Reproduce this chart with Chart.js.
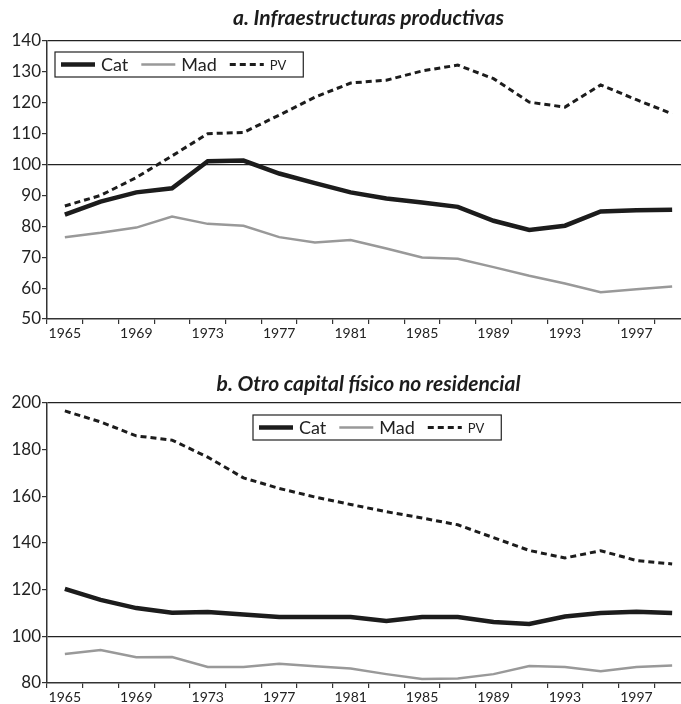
<!DOCTYPE html>
<html>
<head>
<meta charset="utf-8">
<script src="https://cdn.jsdelivr.net/npm/chart.js@4.4.1/dist/chart.umd.min.js"></script>
<style>
  html, body { margin: 0; padding: 0; background: #fff; overflow: hidden; }
  #wrap { position: relative; width: 681px; height: 704px; overflow: hidden; }
  .box { position: absolute; left: 0; width: 690px; }
  #boxA { top: 0; height: 345px; }
  #boxB { top: 355px; height: 349px; }
</style>
</head>
<body>
<div id="wrap">
  <div class="box" id="boxA"><canvas id="chartA"></canvas></div>
  <div class="box" id="boxB"><canvas id="chartB"></canvas></div>
</div>
<script>
/* ===== DATA ===== */
const years = ['1965', '1967', '1969', '1971', '1973', '1975', '1977', '1979', '1981',
               '1983', '1985', '1987', '1989', '1991', '1993', '1995', '1997', '1999'];
const seriesNames = ['Cat', 'Mad', 'PV'];

// a. Infraestructuras productivas
const catA = [83.8, 88.0, 91.0, 92.3, 101.1, 101.3, 97.1, 94.0, 91.0, 89.0, 87.7, 86.3, 81.8, 78.8, 80.2, 84.8, 85.2, 85.4];
const madA = [76.5, 77.9, 79.6, 83.2, 80.8, 80.2, 76.5, 74.8, 75.6, 72.8, 69.9, 69.5, 66.8, 64.0, 61.5, 58.7, 59.6, 60.5];
const pvA  = [86.6, 90.0, 95.8, 102.8, 110.0, 110.4, 116.0, 121.8, 126.4, 127.3, 130.3, 132.2, 127.8, 120.2, 118.6, 125.8, 121.0, 116.4];

// b. Otro capital físico no residencial
const catB = [120.3, 115.6, 112.1, 110.1, 110.4, 109.4, 108.3, 108.3, 108.3, 106.6, 108.3, 108.3, 106.1, 105.3, 108.5, 110.0, 110.5, 110.0];
const madB = [92.4, 94.1, 91.0, 91.1, 86.9, 86.9, 88.3, 87.2, 86.2, 83.8, 81.7, 81.9, 83.8, 87.3, 86.9, 85.0, 86.9, 87.5];
const pvB  = [196.6, 191.9, 185.9, 184.1, 176.8, 167.9, 163.4, 159.7, 156.5, 153.4, 150.7, 147.8, 142.3, 136.8, 133.6, 136.7, 132.5, 131.0];

/* ===== LEGEND BOX (drawn inside the plot) ===== */
const boxLegend = {
  id: 'boxLegend',
  afterDatasetsDraw(chart, args, opts) {
    const ctx = chart.ctx;
    const area = chart.chartArea;
    const x0 = area.left + opts.x;
    const y0 = area.top + opts.y;
    const h = 25;
    const sample = 34;
    ctx.save();

    // measure
    const widths = chart.data.datasets.map((ds, i) => {
      ctx.font = opts.sizes[i] + 'px Lato';
      return ctx.measureText(ds.label).width;
    });
    let w = 6;
    widths.forEach((tw, i) => { w += sample + 6 + tw + (i < widths.length - 1 ? 13 : 17); });

    ctx.fillStyle = '#fff';
    ctx.fillRect(x0, y0, w, h);
    ctx.strokeStyle = '#222';
    ctx.lineWidth = 1.2;
    ctx.strokeRect(x0, y0, w, h);

    let x = x0 + 6;
    const cy = y0 + h / 2;
    chart.data.datasets.forEach((ds, i) => {
      ctx.beginPath();
      ctx.setLineDash(ds.borderDash || []);
      ctx.strokeStyle = ds.borderColor;
      ctx.lineWidth = ds.borderWidth;
      ctx.moveTo(x, cy);
      ctx.lineTo(x + sample, cy);
      ctx.stroke();
      ctx.setLineDash([]);
      ctx.fillStyle = '#222';
      ctx.font = opts.sizes[i] + 'px Lato';
      ctx.textBaseline = 'middle';
      ctx.fillText(ds.label, x + sample + 6, cy + 1);
      x += sample + 6 + widths[i] + 13;
    });
    ctx.restore();
  }
};

/* ===== CHART BUILDER ===== */
function makeChart(id, title, cat, mad, pv, yMin, yMax, yStep, legendPos, titlePad, xHeight) {
  return new Chart(document.getElementById(id), {
    type: 'line',
    data: {
      labels: years,
      datasets: [
        { label: seriesNames[0], data: cat, borderColor: '#1c1c1c', borderWidth: 4.5 },
        { label: seriesNames[1], data: mad, borderColor: '#999999', borderWidth: 2.5 },
        { label: seriesNames[2], data: pv, borderColor: '#1c1c1c', borderWidth: 3, borderDash: [6, 4] }
      ]
    },
    options: {
      responsive: true,
      maintainAspectRatio: false,
      animation: false,
      layout: { padding: 0 },
      elements: { point: { radius: 0 }, line: { tension: 0, borderCapStyle: 'butt' } },
      plugins: {
        legend: { display: false },
        tooltip: { enabled: false },
        title: {
          display: true,
          text: title,
          fullSize: false,
          color: '#1c1c1c',
          font: { family: 'Lato', size: 21, weight: 'bold', style: 'italic', lineHeight: 1.2 },
          padding: titlePad
        },
        boxLegend: legendPos
      },
      scales: {
        x: {
          offset: true,
          grid: { offset: true, drawOnChartArea: false, color: '#333', lineWidth: 1.2, tickLength: 5 },
          border: { display: true, color: '#333', width: 1.5 },
          ticks: {
            autoSkip: false, maxRotation: 0, padding: 1,
            color: '#222', font: { family: 'Lato', size: 14 },
            callback: (v, i) => (i % 2 === 0 ? years[i] : '')
          },
          afterFit: s => { s.height = xHeight; }
        },
        y: {
          min: yMin, max: yMax,
          grid: {
            color: c => (c.tick && (c.tick.value === 100 || c.tick.value === yMax) ? '#222' : 'rgba(0,0,0,0)'),
            lineWidth: 1.2,
            tickColor: '#333',
            tickLength: 5
          },
          border: { display: true, color: '#333', width: 1.5 },
          ticks: { stepSize: yStep, padding: 1, color: '#222', font: { family: 'Lato', size: 17 } },
          afterFit: s => { s.width = 47; }
        }
      }
    },
    plugins: [boxLegend]
  });
}

/* ===== INIT ===== */
makeChart('chartA', 'a. Infraestructuras productivas', catA, madA, pvA, 50, 140, 10,
  { x: 8, y: 11, sizes: [18, 18, 13] }, { top: 5.4, bottom: 10.4 }, 26);
makeChart('chartB', 'b. Otro capital físico no residencial', catB, madB, pvB, 80, 200, 20,
  { x: 206, y: 12, sizes: [18, 18, 13] }, { top: 16.4, bottom: 6.4 }, 21);
</script>
</body>
</html>
